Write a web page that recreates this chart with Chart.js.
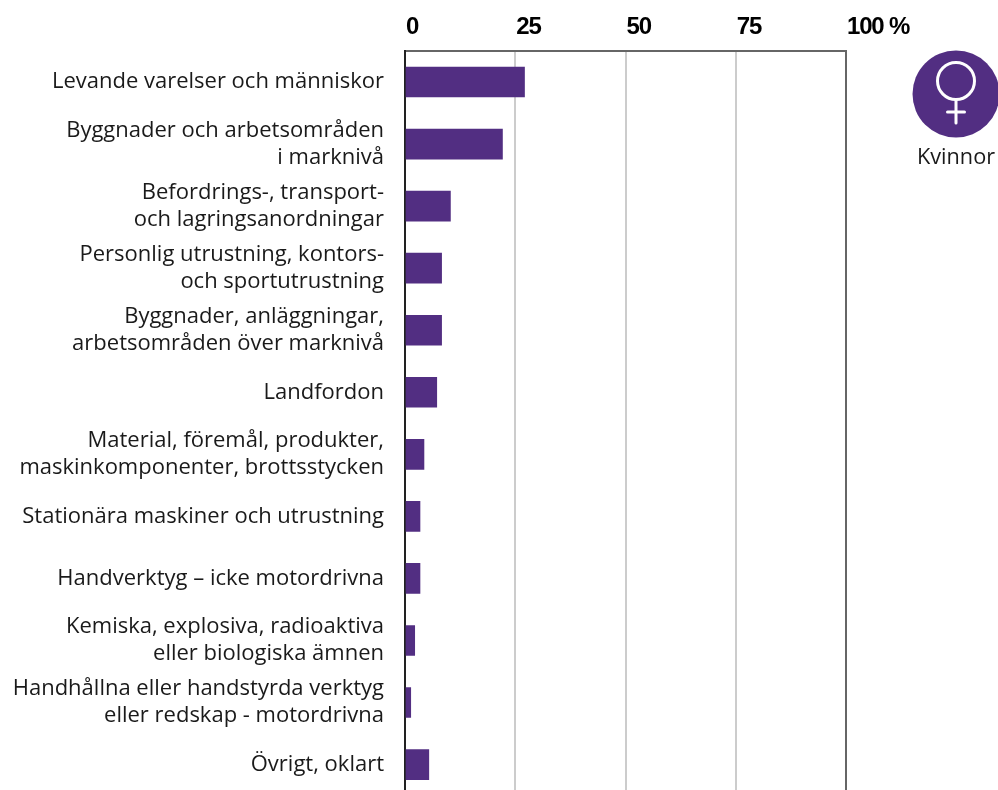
<!DOCTYPE html>
<html><head><meta charset="utf-8">
<style>html,body{margin:0;padding:0;background:#fff;overflow:hidden;width:998px;height:790px}canvas{display:block}</style>
<script src="https://cdn.jsdelivr.net/npm/chart.js@4"></script>
</head><body><canvas id="c" width="998" height="830" style="width:998px;height:830px"></canvas>
<script>
const categories=[
"Levande varelser och människor",
["Byggnader och arbetsområden","i marknivå"],
["Befordrings-, transport-","och lagringsanordningar"],
["Personlig utrustning, kontors-","och sportutrustning"],
["Byggnader, anläggningar,","arbetsområden över marknivå"],
"Landfordon",
["Material, föremål, produkter,","maskinkomponenter, brottsstycken"],
"Stationära maskiner och utrustning",
"Handverktyg – icke motordrivna",
["Kemiska, explosiva, radioaktiva","eller biologiska ämnen"],
["Handhållna eller handstyrda verktyg","eller redskap - motordrivna"],
"Övrigt, oklart"];
const women=[27.1,22.1,10.3,8.3,8.3,7.2,4.3,3.4,3.4,2.2,1.3,5.4];
const tickValues=[0,25,50,75,100];
const seriesName="Kvinnor";
const purple="#522e82";
const icon={id:"icon",
 afterDatasetsDraw(ch){ch.ctx.letterSpacing="-1.2px";},
 afterDraw(ch){
  const g=ch.ctx;g.save();
  g.letterSpacing="0px";
  g.fillStyle=purple;g.beginPath();g.arc(956,94,43.5,0,Math.PI*2);g.fill();
  g.strokeStyle="#fff";g.lineWidth=3;g.lineCap="round";
  g.beginPath();g.arc(956,81,18.5,0,Math.PI*2);g.stroke();
  g.beginPath();g.moveTo(956,100);g.lineTo(956,123);g.moveTo(947.5,112);g.lineTo(964.5,112);g.stroke();
  g.fillStyle="#1a1a1a";g.font='21.7px "Open Sans"';g.textAlign="center";g.textBaseline="middle";
  g.fillText(seriesName,956,158);
  g.restore();
 }};
new Chart(document.getElementById("c"),{
 type:"bar",
 data:{labels:categories,datasets:[{label:seriesName,data:women,backgroundColor:purple,barThickness:30}]},
 plugins:[icon],
 options:{indexAxis:"y",responsive:false,animation:false,
  layout:{padding:{left:0,right:152,top:0,bottom:5}},
  plugins:{legend:{display:false},tooltip:{enabled:false}},
  scales:{
   x:{position:"top",min:0,max:100,
    afterBuildTicks(s){s.ticks=tickValues.map(v=>({value:v}));},
    afterFit(s){s.height=51;},
    border:{color:"#666",width:2},
    grid:{drawTicks:false,lineWidth:2,color:c=>c.tick&&c.tick.value===100?"#666":(c.tick&&c.tick.value===0?"#222":"#ccc")},
    ticks:{z:1,align:"start",labelOffset:1,maxRotation:0,autoSkip:false,padding:9,color:"#000",
      font:{family:"Liberation Sans",weight:"bold",size:24},
      callback:v=>v===100?"100 %":String(v)}
   },
   y:{afterFit(s){s.width=405;},
    border:{color:"#222",width:2},
    grid:{display:false,drawTicks:false},
    ticks:{padding:21,color:"#1a1a1a",autoSkip:false,crossAlign:"near",
      font:{family:"Open Sans",size:22,lineHeight:1.22}}
   }
  }
 }
});
</script></body></html>
